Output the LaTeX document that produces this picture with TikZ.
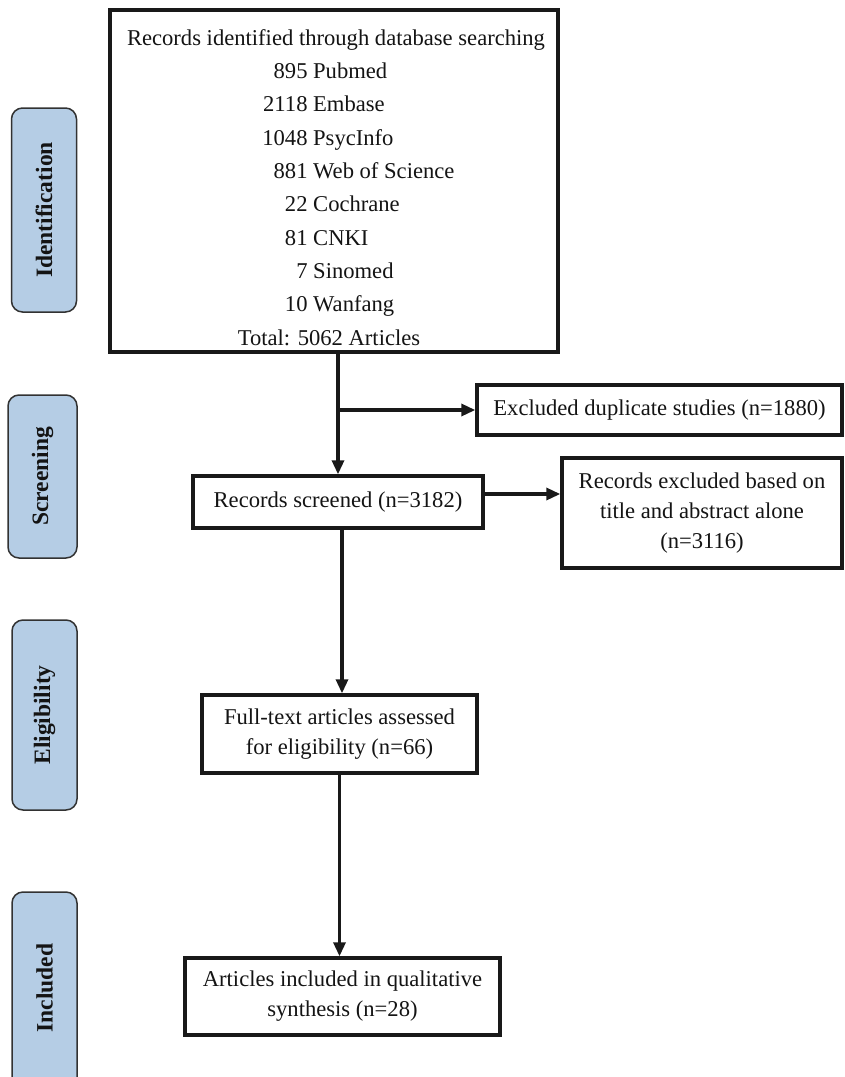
\documentclass[tikz,border=0pt]{standalone}
\usepackage{fontspec}
\setmainfont{Liberation Serif}
\usetikzlibrary{arrows.meta}
\definecolor{sideblue}{RGB}{181,205,229}
\definecolor{sidegray}{RGB}{50,50,50}
\begin{document}
\begin{tikzpicture}[x=1pt,y=-1pt,
  txt/.style={font=\fontsize{22.6}{30}\selectfont, inner sep=0pt, text=black!92},
  box/.style={draw=black!90, line width=3.4pt, fill=white, inner sep=0pt, align=center, font=\fontsize{22.6}{30}\selectfont, text=black!92},
  side/.style={draw=sidegray, line width=1.5pt, fill=sideblue, rounded corners=11pt, minimum width=65pt, inner sep=0pt},
  sidetxt/.style={rotate=90, font=\bfseries\fontsize{23.5}{26}\selectfont, text=black!92},
  arr/.style={line width=3.2pt, draw=black!90, -{Triangle[length=14pt,width=12pt]}},
  ln/.style={line width=3.2pt, draw=black!90}]
\useasboundingbox (0,0) rectangle (845,1077);
\begin{scope}
\clip (0,0) rectangle (845,1077);
% side labels
\node[side, minimum height=204pt] (sid) at (44,210) {};
\node[sidetxt] (sidt) at (sid.center) {Identification};
\node[side, minimum height=163pt, minimum width=69pt] (sscr) at (42.5,476.5) {};
\node[sidetxt] (sscrt) at (sscr.center) {Screening};
\node[side, minimum height=190pt] (selig) at (44.5,715) {};
\node[sidetxt] (seligt) at (selig.center) {Eligibility};
\node[side, minimum height=200pt] (sinc) at (44.5,992) {};
\node[sidetxt] (sinct) at (44.5,988) {Included};
\end{scope}
% top box
\node[box, minimum width=448pt, minimum height=342pt] (top) at (334,181) {};
\node[txt, anchor=base] (t0) at (336,45) {Records identified through database searching};
\node[txt, anchor=base west] (t1) at (313,78) {\llap{895 }Pubmed};
\node[txt, anchor=base west] (t2) at (313,111.5) {\llap{2118 }Embase};
\node[txt, anchor=base west] (t3) at (313,145) {\llap{1048 }PsycInfo};
\node[txt, anchor=base west] (t4) at (313,178) {\llap{881 }Web of Science};
\node[txt, anchor=base west] (t5) at (313,211.5) {\llap{22 }Cochrane};
\node[txt, anchor=base west] (t6) at (313,245) {\llap{81 }CNKI};
\node[txt, anchor=base west] (t7) at (313,278) {\llap{7 }Sinomed};
\node[txt, anchor=base west] (t8) at (313,311.5) {\llap{10 }Wanfang};
\node[txt, anchor=base] (t9) at (329,345) {Total: 5062 Articles};
% other boxes
\node[box, minimum width=365pt, minimum height=50pt] (dup) at (659.5,410) {Excluded duplicate studies (n=1880)};
\node[box, minimum width=290pt, minimum height=52pt] (scr) at (338,502) {Records screened (n=3182)};
\node[box, minimum width=280pt, minimum height=110pt] (excl) at (702,513) {Records excluded based on\\title and abstract alone\\(n=3116)};
\node[box, minimum width=275pt, minimum height=78pt] (full) at (339.5,734) {Full-text articles assessed\\for eligibility (n=66)};
\node[box, minimum width=315pt, minimum height=77pt] (inc) at (342.5,996.5) {Articles included in qualitative\\synthesis (n=28)};
% connectors
\draw[arr] (top.south -| scr.north) -- (scr.north);
\draw[arr] (dup.west -| scr.north) -- (dup.west);
\draw[arr] ([yshift=8pt]scr.east) -- ([yshift=8pt]scr.east -| excl.west);
\draw[arr] ([xshift=4pt]scr.south) -- ([xshift=4pt]scr.south |- full.north);
\draw[arr] (full.south) -- (full.south |- inc.north);
\end{tikzpicture}
\end{document}
